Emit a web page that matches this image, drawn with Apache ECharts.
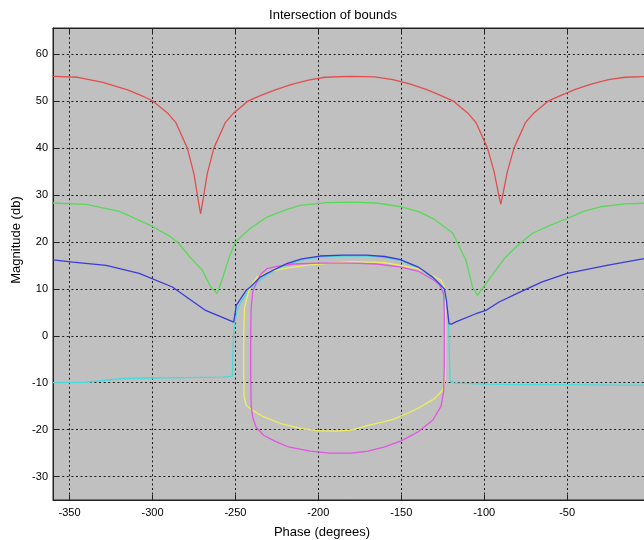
<!DOCTYPE html>
<html>
<head>
<meta charset="utf-8">
<script src="https://cdn.jsdelivr.net/npm/echarts@6/dist/echarts.min.js"></script>
<style>
html,body{margin:0;padding:0;background:#fff;}
#c{width:644px;height:540px;}
</style>
</head>
<body>
<div id="c"></div>
<script>
// ---- data (phase in degrees, magnitude in dB) ----
const redPhase = [-360,-345,-330,-315,-306,-300,-291,-286,-279,-275,-272.5,-271,-269.5,-267,-263,-256,-251,-242.5,-235,-226,-216,-206,-196,-181,-166,-155,-145,-135,-126,-118.5,-110,-105,-98,-94,-91.5,-90,-88.5,-86,-82,-75,-70,-61.5,-54,-45,-35,-25,-15,0];
const redMag   = [55.3,55.1,54.0,52.4,51.1,50.1,47.5,45.5,40,34.5,29,26,29,34.5,40,45.5,47.5,50,51.2,52.4,53.6,54.5,55.1,55.3,55.2,54.6,53.7,52.5,51.2,50,47.5,45.5,40,35,30.5,28,30.5,35,40,45.5,47.5,50,51.2,52.5,53.7,54.6,55.1,55.3];

const greenPhase = [-360,-340,-320,-300,-290,-285,-278,-270,-265,-261,-258,-254,-250,-241,-231,-220,-211,-195,-180,-165,-150,-139,-130,-119,-111,-107,-104,-99,-93,-87,-80,-71,-60,-50,-40,-30,-15,0];
const greenMag   = [28.3,28.0,26.5,23.3,21.3,20,17,14,10.5,9,12,16.5,20,22.9,25.3,26.8,27.8,28.4,28.5,28.3,27.5,26.4,24.8,21.9,16.1,10.4,8.6,11.1,14,16.8,19.2,21.8,23.6,25,26.5,27.5,28.1,28.3];

const bluePhase = [-360,-348,-328,-308,-288,-268,-251,-249.5,-247,-243.5,-241,-235,-231,-219,-210,-199,-185,-171,-160,-151,-140,-131,-124,-122.8,-121.2,-119.7,-116.7,-105,-99,-91,-78.5,-65,-50,-26,0];
const blueMag   = [16.2,15.7,15,13.3,10.4,5.4,2.9,6.5,7.8,9.7,10.4,12.5,13.3,15.4,16.4,17.0,17.2,17.2,16.9,16.3,14.7,12.5,10.0,7.6,2.6,2.5,3.0,4.7,5.4,7.2,9.3,11.5,13.3,15.0,16.7];

const cyanPhase = [-360,-340,-318,-300,-280,-258,-251.8,-251.5,-251,-250.3,-249,-246,-242,-237,-231,-220,-210,-199,-185,-171,-160,-151,-140,-131,-125,-122.5,-121.5,-121.2,-121,-120.5,-118,-100,-80,-50,-20,0];
const cyanMag   = [-10,-9.9,-9.1,-9.0,-8.9,-8.8,-8.6,-3,1,2.9,5.5,7.6,9.6,11.2,13,15,16.2,16.8,17.0,17.0,16.7,16.1,14.5,12.3,9.8,6,3,0,-4,-9.6,-10.1,-10.3,-10.4,-10.4,-10.5,-10.5];

const yellowPhase = [-239,-242,-244.5,-245,-245,-244.8,-243.5,-240,-233,-222,-210,-200,-190,-180,-170,-160,-154,-140,-130,-125,-123.5,-123.3,-123.3,-124,-126,-131,-140,-160,-180,-205,-221,-230,-237,-239];
const yellowMag   = [11.5,9.5,6,0,-8,-13,-14.8,-15.8,-17.3,-18.8,-19.8,-20.2,-20.3,-20.1,-19.1,-18.3,-17.7,-15.5,-13.4,-11.6,-9,0,8,10.5,11.8,12.8,14.3,15.6,15.8,15.1,14.3,13.6,12.5,11.5];

const magentaPhase = [-237,-239.5,-240.5,-240.8,-240.8,-240.5,-239.5,-237.5,-233,-226,-218,-205,-193,-180,-170,-160,-150,-140,-131,-126,-124.5,-124,-124,-124,-124.5,-127,-131,-140,-151,-165,-180,-200,-215,-225,-231,-235,-237];
const magentaMag   = [11.5,9.5,6,0,-8,-15,-17.5,-19.5,-21.2,-22.5,-23.7,-24.6,-25.0,-25.0,-24.6,-23.7,-22.4,-20.5,-18,-15,-12,-6,0,5,9,11,12,13.8,14.7,15.3,15.5,15.5,15.3,14.8,14.3,13,11.5];

const xTicks = [-350,-300,-250,-200,-150,-100,-50];
const yTicks = [-30,-20,-10,0,10,20,30,40,50,60];

function zip(a, b) { return a.map((v, i) => [v, b[i]]); }

const chart = echarts.init(document.getElementById('c'), null, {renderer: 'canvas'});

function mk(name, ph, mg, color) {
  return {
    name: name, type: 'line', data: zip(ph, mg), showSymbol: false,
    symbol: 'none', smooth: false, animation: false,
    lineStyle: {color: color, width: 1.3}, itemStyle: {color: color},
    clip: true
  };
}

const font = 'Liberation Sans, Arial, sans-serif';

chart.setOption({
  animation: false,
  backgroundColor: '#ffffff',
  grid: {
    left: 53, top: 28, width: 597, height: 472,
    show: true, backgroundColor: '#c0c0c0', borderColor: '#222', borderWidth: 1,
    containLabel: false, outerBoundsMode: 'none'
  },
  xAxis: [{
    type: 'value', min: -360, max: 0, splitNumber: 7, position: 'bottom',
    axisLine: {show: true, onZero: false, lineStyle: {color: '#222', width: 1}},
    axisTick: {show: true, inside: true, length: 5, lineStyle: {color: '#222'}},
    axisLabel: {
      show: true, color: '#000', fontSize: 11, fontFamily: font, margin: 7,
      showMinLabel: false,
      formatter: v => xTicks.indexOf(v) >= 0 ? String(v) : ''
    },
    splitLine: {show: true, lineStyle: {color: '#1a1a1a', width: 1, type: [2, 2.6]}}
  }, {
    type: 'value', min: -360, max: 0, splitNumber: 7, position: 'top',
    axisLine: {show: true, onZero: false, lineStyle: {color: '#222', width: 1}},
    axisTick: {show: true, inside: true, length: 5, lineStyle: {color: '#222'}},
    axisLabel: {show: false},
    splitLine: {show: false}
  }],
  yAxis: [{
    type: 'value', min: -35, max: 65.6, splitNumber: 10,
    axisLine: {show: true, onZero: false, lineStyle: {color: '#222', width: 1}},
    axisTick: {show: true, inside: true, length: 5, lineStyle: {color: '#222'}},
    axisLabel: {
      show: true, color: '#000', fontSize: 11, fontFamily: font, margin: 5,
      showMinLabel: false, showMaxLabel: false,
      formatter: v => yTicks.indexOf(v) >= 0 ? String(v) : ''
    },
    splitLine: {show: true, lineStyle: {color: '#1a1a1a', width: 1, type: [2, 2.6]}}
  }],
  graphic: [
    {type: 'text', id: 'title', x: 333, y: 15, style: {text: 'Intersection of bounds', fill: '#000', font: '13px ' + font, textAlign: 'center', textVerticalAlign: 'middle'}},
    {type: 'text', id: 'xl', x: 322, y: 532, style: {text: 'Phase (degrees)', fill: '#000', font: '13px ' + font, textAlign: 'center', textVerticalAlign: 'middle'}},
    {type: 'text', id: 'yl', x: 16, y: 240, rotation: Math.PI / 2, style: {text: 'Magnitude (db)', fill: '#000', font: '13px ' + font, textAlign: 'center', textVerticalAlign: 'middle'}}
  ],
  series: [
    mk('cyan', cyanPhase, cyanMag, '#4cd9d9'),
    mk('yellow', yellowPhase, yellowMag, '#eeee5a'),
    mk('magenta', magentaPhase, magentaMag, '#e254e2'),
    mk('green', greenPhase, greenMag, '#5ad85a'),
    mk('red', redPhase, redMag, '#e24e4e'),
    mk('blue', bluePhase, blueMag, '#3a3ad8')
  ]
});
</script>
</body>
</html>
